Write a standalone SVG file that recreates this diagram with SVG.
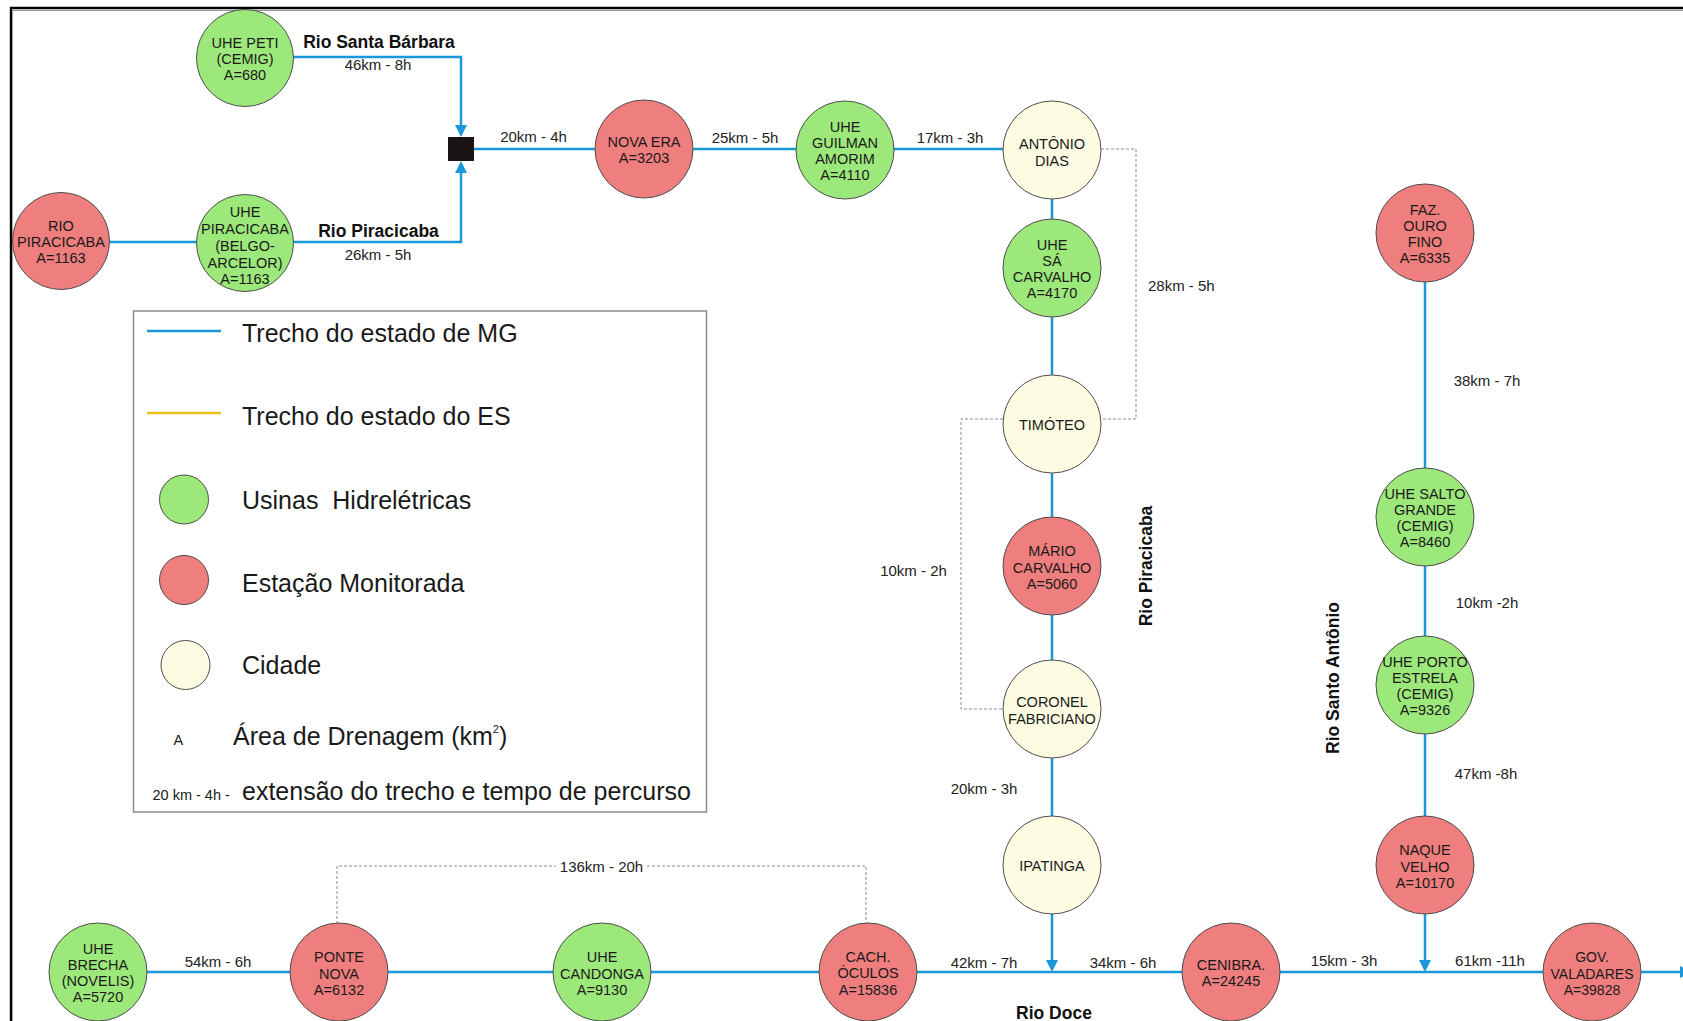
<svg xmlns="http://www.w3.org/2000/svg" width="1683" height="1021" viewBox="0 0 1683 1021">
  <style>
    .nd circle { stroke: #4d4d4d; stroke-width: 1; }
    .hy { fill: #9de87b; }
    .st { fill: #ef7e7e; }
    .ci { fill: #fdfce3; }
    .lbl { font-family: "Liberation Sans", Arial, sans-serif; font-size: 14.5px; fill: #1a1a1a; text-anchor: middle; }
    .dist { font-family: "Liberation Sans", Arial, sans-serif; font-size: 15px; fill: #222; text-anchor: middle; }
    .river { font-family: "Liberation Sans", Arial, sans-serif; font-size: 17.5px; font-weight: bold; fill: #111; text-anchor: middle; }
    .mg { stroke: #1b98dc; stroke-width: 2.5; fill: none; }
    .es { stroke: #e3c31a; stroke-width: 2.5; fill: none; }
    .dash { stroke: #8c8c8c; stroke-width: 1; stroke-dasharray: 3 2; fill: none; }
    .leg { font-family: "Liberation Sans", Arial, sans-serif; font-size: 25px; fill: #1a1a1a; white-space: pre; }
    .legs { font-family: "Liberation Sans", Arial, sans-serif; font-size: 14.5px; fill: #1a1a1a; }
  </style>
  <defs>
    <marker id="arr" viewBox="0 0 12 12" refX="9" refY="6" markerWidth="12" markerHeight="12" markerUnits="userSpaceOnUse" orient="auto">
      <path d="M0,0 L12,6 L0,12 z" fill="#1b98dc"/>
    </marker>
  </defs>

  <rect width="1683" height="1021" fill="#fff"/>

  <!-- frame -->
  <g id="frame">
    <path d="M12,1021 V10.5 H1683" stroke="#9a9a9a" stroke-width="1" fill="none"/>
    <path d="M11,1021 V8 H1683" stroke="#000" stroke-width="2.4" fill="none"/>
  </g>

  <!-- river reaches and distance links -->
  <g id="connectors">
    <path class="mg" d="M245,57 H461 V134" marker-end="url(#arr)"/>
    <path class="mg" d="M61,242 H461 V164" marker-end="url(#arr)"/>
    <path class="mg" d="M474,149 H1052"/>
    <path class="mg" d="M1052,150 V969" marker-end="url(#arr)"/>
    <path class="mg" d="M1425,233 V969" marker-end="url(#arr)"/>
    <path class="mg" d="M98,972 H1689" marker-end="url(#arr)"/>

    <path class="dash" d="M1101,149 H1136 V419 H1101"/>
    <path class="dash" d="M1003,419 H961 V709 H1004"/>
    <path class="dash" d="M337,924 V866 H556"/>
    <path class="dash" d="M647,866 H866 V924"/>
  </g>

  <!-- distances and travel times -->
  <g id="distances">
    <text class="dist" x="378" y="69.5">46km - 8h</text>
    <text class="dist" x="378" y="259.5">26km - 5h</text>
    <text class="dist" x="533.5" y="142">20km - 4h</text>
    <text class="dist" x="745" y="142.5">25km - 5h</text>
    <text class="dist" x="950" y="142.5">17km - 3h</text>
    <text class="dist" x="1148" y="290.5" style="text-anchor:start">28km - 5h</text>
    <text class="dist" x="913.5" y="575.5">10km - 2h</text>
    <text class="dist" x="984" y="793.5">20km - 3h</text>
    <text class="dist" x="984" y="967.5">42km - 7h</text>
    <text class="dist" x="1123" y="967.5">34km - 6h</text>
    <text class="dist" x="1344" y="965.5">15km - 3h</text>
    <text class="dist" x="1490" y="965.5">61km -11h</text>
    <text class="dist" x="1487" y="385.5">38km - 7h</text>
    <text class="dist" x="1487" y="607.5">10km -2h</text>
    <text class="dist" x="1486" y="778.5">47km -8h</text>
    <text class="dist" x="218" y="966.5">54km - 6h</text>
    <text class="dist" x="601.5" y="871.5">136km - 20h</text>
  </g>

  <!-- river names -->
  <g id="rivers">
    <text class="river" x="379" y="48">Rio Santa Bárbara</text>
    <text class="river" x="378.5" y="237">Rio Piracicaba</text>
    <text class="river" x="1054" y="1019">Rio Doce</text>
    <text class="river" transform="translate(1146,566) rotate(-90)" x="0" y="6.3">Rio Piracicaba</text>
    <text class="river" transform="translate(1333,678) rotate(-90)" x="0" y="6.3">Rio Santo Antônio</text>
  </g>

  <!-- confluence -->
  <g id="n-juncao">
    <rect x="448" y="137" width="26" height="24" fill="#1a1414"/>
  </g>

  <g id="n-uhe-peti" class="nd">
    <circle class="hy" cx="245" cy="58" r="48.5"/>
    <text class="lbl"><tspan x="245" y="48">UHE PETI</tspan><tspan x="245" y="64">(CEMIG)</tspan><tspan x="245" y="80">A=680</tspan></text>
  </g>
  <g id="n-rio-piracicaba" class="nd">
    <circle class="st" cx="61" cy="241" r="48.5"/>
    <text class="lbl"><tspan x="61" y="231">RIO</tspan><tspan x="61" y="247">PIRACICABA</tspan><tspan x="61" y="263">A=1163</tspan></text>
  </g>
  <g id="n-uhe-piracicaba" class="nd">
    <circle class="hy" cx="245" cy="243" r="48.5"/>
    <text class="lbl"><tspan x="245" y="217">UHE</tspan><tspan x="245" y="234">PIRACICABA</tspan><tspan x="245" y="251">(BELGO-</tspan><tspan x="245" y="267.5">ARCELOR)</tspan><tspan x="245" y="284">A=1163</tspan></text>
  </g>
  <g id="n-nova-era" class="nd">
    <circle class="st" cx="644" cy="149" r="49"/>
    <text class="lbl"><tspan x="644" y="147">NOVA ERA</tspan><tspan x="644" y="163">A=3203</tspan></text>
  </g>
  <g id="n-uhe-guilman" class="nd">
    <circle class="hy" cx="845" cy="150" r="49"/>
    <text class="lbl"><tspan x="845" y="132">UHE</tspan><tspan x="845" y="148">GUILMAN</tspan><tspan x="845" y="164">AMORIM</tspan><tspan x="845" y="180">A=4110</tspan></text>
  </g>
  <g id="n-antonio-dias" class="nd">
    <circle class="ci" cx="1052" cy="150" r="49"/>
    <text class="lbl"><tspan x="1052" y="149">ANTÔNIO</tspan><tspan x="1052" y="166">DIAS</tspan></text>
  </g>
  <g id="n-uhe-sa-carvalho" class="nd">
    <circle class="hy" cx="1052" cy="268" r="49"/>
    <text class="lbl"><tspan x="1052" y="250">UHE</tspan><tspan x="1052" y="266">SÁ</tspan><tspan x="1052" y="282">CARVALHO</tspan><tspan x="1052" y="298">A=4170</tspan></text>
  </g>
  <g id="n-timoteo" class="nd">
    <circle class="ci" cx="1052" cy="424" r="49"/>
    <text class="lbl"><tspan x="1052" y="430">TIMÓTEO</tspan></text>
  </g>
  <g id="n-mario-carvalho" class="nd">
    <circle class="st" cx="1052" cy="566" r="49"/>
    <text class="lbl"><tspan x="1052" y="556">MÁRIO</tspan><tspan x="1052" y="572.5">CARVALHO</tspan><tspan x="1052" y="589">A=5060</tspan></text>
  </g>
  <g id="n-coronel-fabriciano" class="nd">
    <circle class="ci" cx="1052" cy="709" r="49"/>
    <text class="lbl"><tspan x="1052" y="707">CORONEL</tspan><tspan x="1052" y="724">FABRICIANO</tspan></text>
  </g>
  <g id="n-ipatinga" class="nd">
    <circle class="ci" cx="1052" cy="865" r="49"/>
    <text class="lbl"><tspan x="1052" y="871">IPATINGA</tspan></text>
  </g>
  <g id="n-faz-ouro-fino" class="nd">
    <circle class="st" cx="1425" cy="233" r="49"/>
    <text class="lbl"><tspan x="1425" y="215">FAZ.</tspan><tspan x="1425" y="231">OURO</tspan><tspan x="1425" y="247">FINO</tspan><tspan x="1425" y="263">A=6335</tspan></text>
  </g>
  <g id="n-uhe-salto-grande" class="nd">
    <circle class="hy" cx="1425" cy="517" r="49"/>
    <text class="lbl"><tspan x="1425" y="499">UHE SALTO</tspan><tspan x="1425" y="515">GRANDE</tspan><tspan x="1425" y="531">(CEMIG)</tspan><tspan x="1425" y="547">A=8460</tspan></text>
  </g>
  <g id="n-uhe-porto-estrela" class="nd">
    <circle class="hy" cx="1425" cy="685" r="49"/>
    <text class="lbl"><tspan x="1425" y="667">UHE PORTO</tspan><tspan x="1425" y="683">ESTRELA</tspan><tspan x="1425" y="699">(CEMIG)</tspan><tspan x="1425" y="715">A=9326</tspan></text>
  </g>
  <g id="n-naque-velho" class="nd">
    <circle class="st" cx="1425" cy="865" r="49"/>
    <text class="lbl"><tspan x="1425" y="855">NAQUE</tspan><tspan x="1425" y="871.5">VELHO</tspan><tspan x="1425" y="888">A=10170</tspan></text>
  </g>
  <g id="n-uhe-brecha" class="nd">
    <circle class="hy" cx="98" cy="972" r="49"/>
    <text class="lbl"><tspan x="98" y="954">UHE</tspan><tspan x="98" y="970">BRECHA</tspan><tspan x="98" y="986">(NOVELIS)</tspan><tspan x="98" y="1002">A=5720</tspan></text>
  </g>
  <g id="n-ponte-nova" class="nd">
    <circle class="st" cx="339" cy="972" r="49"/>
    <text class="lbl"><tspan x="339" y="962">PONTE</tspan><tspan x="339" y="978.5">NOVA</tspan><tspan x="339" y="995">A=6132</tspan></text>
  </g>
  <g id="n-uhe-candonga" class="nd">
    <circle class="hy" cx="602" cy="972" r="49"/>
    <text class="lbl"><tspan x="602" y="962">UHE</tspan><tspan x="602" y="978.5">CANDONGA</tspan><tspan x="602" y="995">A=9130</tspan></text>
  </g>
  <g id="n-cach-oculos" class="nd">
    <circle class="st" cx="868" cy="972" r="49"/>
    <text class="lbl"><tspan x="868" y="961.5">CACH.</tspan><tspan x="868" y="978">ÓCULOS</tspan><tspan x="868" y="994.5">A=15836</tspan></text>
  </g>
  <g id="n-cenibra" class="nd">
    <circle class="st" cx="1231" cy="972" r="49"/>
    <text class="lbl"><tspan x="1231" y="970">CENIBRA.</tspan><tspan x="1231" y="986">A=24245</tspan></text>
  </g>
  <g id="n-gov-valadares" class="nd">
    <circle class="st" cx="1592" cy="972" r="49"/>
    <text class="lbl" style="font-size:14px"><tspan x="1592" y="962">GOV.</tspan><tspan x="1592" y="978.5">VALADARES</tspan><tspan x="1592" y="995">A=39828</tspan></text>
  </g>

  <!-- legend -->
  <g id="legend">
    <rect x="133.5" y="311" width="573" height="501" fill="#fff" stroke="#8a8a8a" stroke-width="1.5"/>
    <line class="mg" x1="147" y1="331" x2="221" y2="331"/>
    <text class="leg" x="242" y="342">Trecho do estado de MG</text>
    <line class="es" x1="147" y1="413" x2="221" y2="413"/>
    <text class="leg" x="242" y="425">Trecho do estado do ES</text>
    <circle class="hy" cx="184" cy="499.5" r="24.5" stroke="#4d4d4d" stroke-width="1"/>
    <text class="leg" x="242" y="508.5">Usinas  Hidrelétricas</text>
    <circle class="st" cx="184" cy="580" r="24.5" stroke="#4d4d4d" stroke-width="1"/>
    <text class="leg" x="242" y="591.5">Estação Monitorada</text>
    <circle class="ci" cx="185.5" cy="665" r="24.5" stroke="#4d4d4d" stroke-width="1"/>
    <text class="leg" x="242" y="674">Cidade</text>
    <text class="legs" x="173.5" y="745">A</text>
    <text class="leg" x="233" y="745">Área de Drenagem (km<tspan style="font-size:11px" dy="-12">2</tspan><tspan dy="12">)</tspan></text>
    <text class="legs" x="152.5" y="800">20 km - 4h -</text>
    <text class="leg" x="242" y="800">extensão do trecho e tempo de percurso</text>
  </g>
</svg>
